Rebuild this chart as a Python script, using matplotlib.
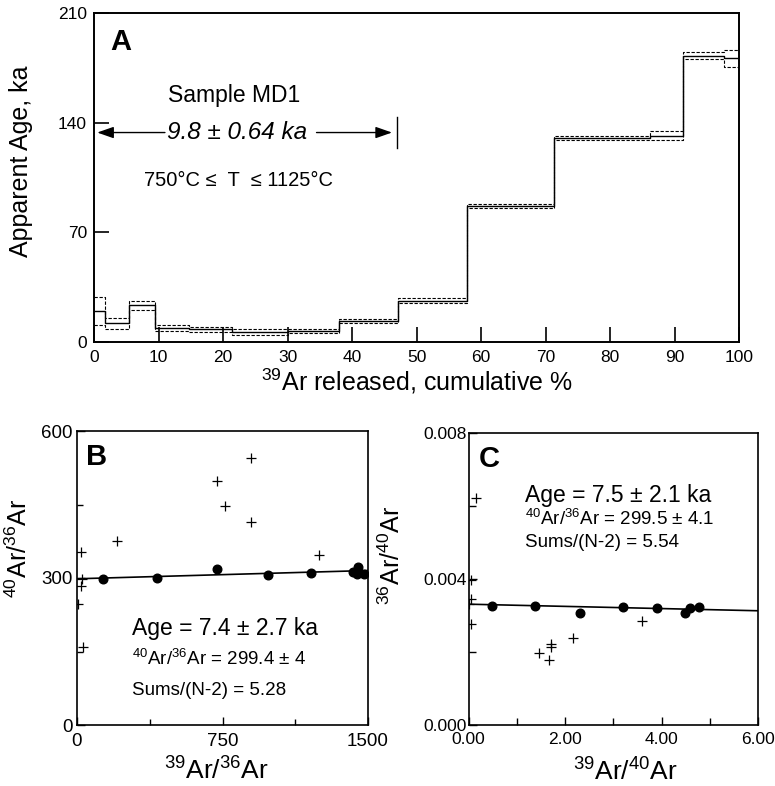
import matplotlib
matplotlib.use("Agg")
import matplotlib.pyplot as plt
import numpy as np

plt.rcParams['font.family'] = ['Liberation Sans', 'DejaVu Sans']
plt.rcParams['mathtext.fontset'] = 'custom'
plt.rcParams['mathtext.rm'] = 'Liberation Sans'
plt.rcParams['mathtext.it'] = 'Liberation Sans:italic'
plt.rcParams['mathtext.default'] = 'regular'

# ---------------- Panel A: age spectrum ----------------
step_edges = [0, 1.75, 5.5, 9.4, 14.8, 21.4, 30.1, 38.0, 47.2, 57.9, 71.3, 86.2, 91.3, 97.7, 100]
step_ages = [20, 12, 23.4, 9.0, 8.0, 6.3, 7.0, 13.4, 26.4, 87.0, 130.4, 131.6, 182.7, 181.0]
step_errs = [9, 3.5, 2.8, 2.0, 1.7, 1.8, 1.3, 1.3, 1.4, 1.3, 1.2, 2.8, 2.2, 5.7]
a_xticks = [0, 10, 20, 30, 40, 50, 60, 70, 80, 90, 100]
a_yticks = [0, 70, 140, 210]
plateau_range = [0.5, 46.2]
plateau_bar = [123.8, 143.6]

# ---------------- Panel B: 40Ar/36Ar vs 39Ar/36Ar ----------------
b_fit_x = [132, 414, 723, 986, 1206, 1421, 1450, 1445, 1478]
b_fit_y = [297, 300, 319, 306.5, 310, 312, 323, 309, 308]
b_out_x = [19, 208, 24, 19, 7, 29, 723, 763, 895, 895, 1247]
b_out_y = [352.5, 375, 297, 283, 247.5, 159, 498, 447.5, 544.5, 415, 346]
b_line = [298.4, 315.3]       # values of the fit line at x = 0 and x = 1500
b_xlim = [0, 1500]
b_ylim = [0, 600]

# ---------------- Panel C: 36Ar/40Ar vs 39Ar/40Ar ----------------
c_fit_x = [0.48, 1.38, 2.31, 3.21, 3.90, 4.49, 4.59, 4.78]
c_fit_y = [0.00327, 0.00326, 0.00308, 0.00322, 0.00321, 0.00308, 0.00320, 0.00324]
c_out_x = [0.15, 0.05, 0.06, 0.02, 0.05, 1.46, 1.67, 1.72, 1.70, 2.17, 3.60]
c_out_y = [0.00623, 0.00397, 0.00344, 0.00331, 0.00277, 0.00198, 0.00178, 0.00222, 0.00214, 0.00238, 0.00286]
c_line = [0.00331, 0.00313]   # values of the fit line at x = 0 and x = 6
c_xlim = [0, 6]
c_ylim = [0, 0.008]

W, H = 775, 786
fig = plt.figure(figsize=(W / 100, H / 100), dpi=100)


def px_axes(l, t, r, b):
    return fig.add_axes([l / W, 1 - b / H, (r - l) / W, (b - t) / H])


def style(ax, lw=1.2):
    for s in ax.spines.values():
        s.set_linewidth(lw)
        s.set_color('black')


# ---- Panel A ----
axA = px_axes(94, 13, 739, 342)
style(axA, 1.4)
edges = np.array(step_edges)
ages = np.array(step_ages + [step_ages[-1]])
errs = np.array(step_errs + [step_errs[-1]])
axA.step(edges, ages, where='post', color='black', lw=1.0)
axA.step(edges, ages + errs, where='post', color='black', lw=0.8, ls=(0, (3, 1.5)))
axA.step(edges, ages - errs, where='post', color='black', lw=0.8, ls=(0, (3, 1.5)))
axA.set_xlim(0, 100)
axA.set_ylim(0, 210)
axA.set_xticks(a_xticks)
axA.set_yticks(a_yticks)
axA.tick_params(direction='in', length=11, width=1.2, labelsize=12.5, pad=5)
axA.tick_params(axis='x', pad=6)
axA.set_xlabel(r'$^{39}$Ar released, cumulative %', fontsize=18)
axA.xaxis.set_label_coords(0.5, -0.075)
axA.set_ylabel('Apparent Age, ka', fontsize=18)
axA.yaxis.set_label_coords(-0.095, 0.55)
axA.text(0.025, 0.955, 'A', transform=axA.transAxes, fontsize=21, fontweight='bold', va='top', ha='left')
axA.text(21.7, 153, 'Sample MD1', fontsize=16.5, ha='center', va='baseline')
axA.text(22.4, 99.7, '750°C ≤  T  ≤ 1125°C', fontsize=14.5, ha='center', va='baseline')
mid_y = (plateau_bar[0] + plateau_bar[1]) / 2
axA.text(22.2, mid_y, '9.8 ± 0.64 ka', fontsize=17.5, style='italic', ha='center', va='center')
axA.annotate('', xy=(plateau_range[0], mid_y), xytext=(11.0, mid_y),
             arrowprops=dict(arrowstyle='-|>,head_length=1.0,head_width=0.35', color='black', lw=1.0,
                             shrinkA=0, shrinkB=0))
axA.annotate('', xy=(plateau_range[1], mid_y), xytext=(34.5, mid_y),
             arrowprops=dict(arrowstyle='-|>,head_length=1.0,head_width=0.35', color='black', lw=1.0,
                             shrinkA=0, shrinkB=0))
axA.plot([47.0, 47.0], plateau_bar, color='black', lw=1.0)

# ---- Panel B ----
axB = px_axes(77, 431, 368, 725)
style(axB)
axB.plot(b_xlim, b_line, color='black', lw=1.2, zorder=2)
axB.plot(b_fit_x, b_fit_y, 'o', color='black', ms=6.2, zorder=3)
axB.plot(b_out_x, b_out_y, '+', color='black', ms=7, mew=0.9, zorder=3)
axB.set_xlim(*b_xlim)
axB.set_ylim(*b_ylim)
axB.set_xticks([0, 750, 1500])
axB.set_xticks([375, 1125], minor=True)
axB.set_yticks([0, 300, 600])
axB.set_yticks([150, 450], minor=True)
axB.tick_params(which='both', direction='in', labelsize=13.5, width=1.0)
axB.tick_params(which='major', length=6)
axB.tick_params(which='minor', length=4)
axB.tick_params(axis='x', pad=6)
axB.tick_params(axis='y', pad=3)
axB.set_xlabel(r'$^{39}$Ar/$^{36}$Ar', fontsize=19)
axB.xaxis.set_label_coords(0.48, -0.11)
axB.set_ylabel(r'$^{40}$Ar/$^{36}$Ar', fontsize=18)
axB.yaxis.set_label_coords(-0.155, 0.6)
axB.text(0.03, 0.96, 'B', transform=axB.transAxes, fontsize=21, fontweight='bold', va='top', ha='left')
axB.text(0.19, 0.305, 'Age = 7.4 ± 2.7 ka', transform=axB.transAxes, fontsize=16.5, va='baseline')
axB.text(0.19, 0.203, r'$^{40}$Ar/$^{36}$Ar = 299.4 ± 4', transform=axB.transAxes, fontsize=13.5, va='baseline')
axB.text(0.19, 0.102, 'Sums/(N-2) = 5.28', transform=axB.transAxes, fontsize=13.5, va='baseline')

# ---- Panel C ----
axC = px_axes(468.5, 433, 758, 725)
style(axC)
axC.plot(c_xlim, c_line, color='black', lw=1.2, zorder=2)
axC.plot(c_fit_x, c_fit_y, 'o', color='black', ms=6.2, zorder=3)
axC.plot(c_out_x, c_out_y, '+', color='black', ms=7, mew=0.9, zorder=3)
axC.set_xlim(*c_xlim)
axC.set_ylim(*c_ylim)
axC.set_xticks([0, 2, 4, 6])
axC.set_xticks([1, 3, 5], minor=True)
axC.set_yticks([0, 0.004, 0.008])
axC.set_yticks([0.002, 0.006], minor=True)
axC.xaxis.set_major_formatter(matplotlib.ticker.FormatStrFormatter('%.2f'))
axC.yaxis.set_major_formatter(matplotlib.ticker.FormatStrFormatter('%.3f'))
axC.tick_params(which='both', direction='in', labelsize=12.5, width=1.0)
axC.tick_params(which='major', length=6)
axC.tick_params(which='minor', length=5)
axC.tick_params(axis='x', pad=5)
axC.tick_params(axis='y', pad=1)
axC.set_xlabel(r'$^{39}$Ar/$^{40}$Ar', fontsize=19)
axC.xaxis.set_label_coords(0.54, -0.115)
axC.set_ylabel(r'$^{36}$Ar/$^{40}$Ar', fontsize=18)
axC.yaxis.set_label_coords(-0.22, 0.58)
axC.text(0.035, 0.96, 'C', transform=axC.transAxes, fontsize=21, fontweight='bold', va='top', ha='left')
axC.text(0.195, 0.765, 'Age = 7.5 ± 2.1 ka', transform=axC.transAxes, fontsize=16.5, va='baseline')
axC.text(0.195, 0.685, r'$^{40}$Ar/$^{36}$Ar = 299.5 ± 4.1', transform=axC.transAxes, fontsize=13.5, va='baseline')
axC.text(0.195, 0.61, 'Sums/(N-2) = 5.54', transform=axC.transAxes, fontsize=13.5, va='baseline')

fig.savefig('out.png', dpi=100)
